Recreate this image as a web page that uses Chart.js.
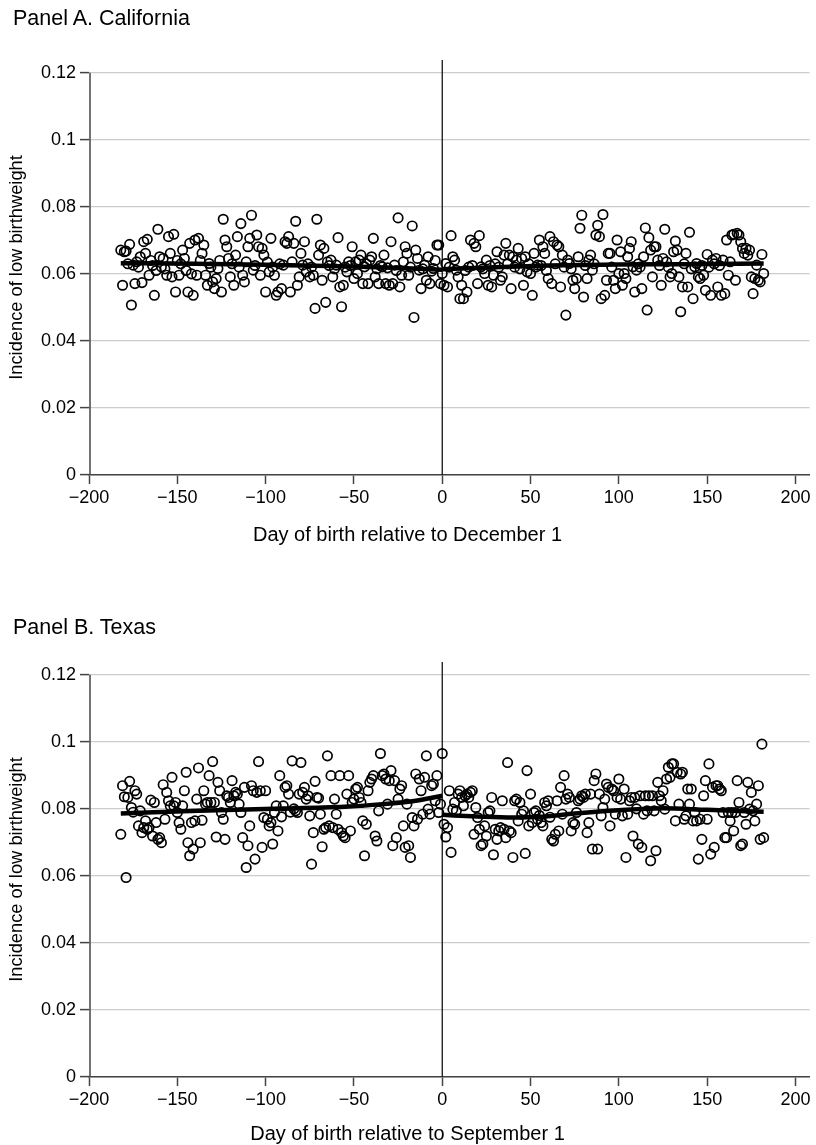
<!DOCTYPE html>
<html>
<head>
<meta charset="utf-8">
<script src="https://cdn.jsdelivr.net/npm/chart.js@4.4.1/dist/chart.umd.min.js"></script>
<style>
  html, body { margin: 0; background: #fff; overflow: hidden; }
  body { width: 816px; height: 1145px; position: relative; font-family: "Liberation Sans", Arial, sans-serif; }
  .panel { position: absolute; left: 0; width: 816px; height: 570px; }
  .panel canvas { position: absolute; left: 0; top: 0; }
  .panel-title { position: absolute; left: 13px; font-size: 21.5px; color: #000; line-height: 24px; }
</style>
</head>
<body>
<div class="panel" style="top:0px">
  <canvas id="chartA" width="816" height="570"></canvas>
  <div class="panel-title" style="top:6px">Panel A. California</div>
</div>
<div class="panel" style="top:602px">
  <canvas id="chartB" width="816" height="570"></canvas>
  <div class="panel-title" style="top:13px">Panel B. Texas</div>
</div>
<script>
// day of birth relative to the cutoff, first day in the arrays below
const firstDay = -182;

// Panel A, California: incidence of low birthweight by day (-182 .. 182)
const caLowBW = [
  0.0671, 0.0566, 0.0666, 0.0668, 0.0630, 0.0688, 0.0507, 0.0626, 0.0571, 0.0636,
  0.0620, 0.0651, 0.0574, 0.0696, 0.0661, 0.0703, 0.0596, 0.0640, 0.0625, 0.0536,
  0.0610, 0.0733, 0.0651, 0.0621, 0.0646, 0.0615, 0.0596, 0.0711, 0.0661, 0.0591,
  0.0718, 0.0546, 0.0640, 0.0596, 0.0630, 0.0671, 0.0646, 0.0610, 0.0546, 0.0691,
  0.0600, 0.0536, 0.0701, 0.0596, 0.0706, 0.0640, 0.0661, 0.0686, 0.0596, 0.0566,
  0.0631, 0.0620, 0.0576, 0.0556, 0.0586, 0.0616, 0.0640, 0.0546, 0.0763, 0.0701,
  0.0681, 0.0646, 0.0591, 0.0630, 0.0566, 0.0656, 0.0711, 0.0620, 0.0750, 0.0596,
  0.0576, 0.0636, 0.0681, 0.0706, 0.0775, 0.0611, 0.0625, 0.0716, 0.0681, 0.0596,
  0.0676, 0.0656, 0.0546, 0.0635, 0.0606, 0.0706, 0.0620, 0.0596, 0.0536, 0.0546,
  0.0630, 0.0556, 0.0626, 0.0696, 0.0691, 0.0711, 0.0546, 0.0636, 0.0691, 0.0757,
  0.0566, 0.0591, 0.0661, 0.0626, 0.0696, 0.0606, 0.0630, 0.0591, 0.0620, 0.0596,
  0.0497, 0.0763, 0.0656, 0.0686, 0.0581, 0.0676, 0.0515, 0.0636, 0.0625, 0.0641,
  0.0591, 0.0615, 0.0626, 0.0708, 0.0561, 0.0502, 0.0566, 0.0620, 0.0606, 0.0636,
  0.0625, 0.0681, 0.0586, 0.0636, 0.0601, 0.0641, 0.0656, 0.0571, 0.0621, 0.0630,
  0.0571, 0.0641, 0.0651, 0.0706, 0.0591, 0.0615, 0.0571, 0.0625, 0.0621, 0.0656,
  0.0571, 0.0618, 0.0566, 0.0696, 0.0571, 0.0626, 0.0610, 0.0767, 0.0561, 0.0596,
  0.0636, 0.0681, 0.0661, 0.0596, 0.0620, 0.0743, 0.0470, 0.0671, 0.0646, 0.0611,
  0.0556, 0.0615, 0.0626, 0.0581, 0.0651, 0.0571, 0.0608, 0.0616, 0.0640, 0.0686,
  0.0686, 0.0571, 0.0601,
  0.0566, 0.0631, 0.0561, 0.0620, 0.0714, 0.0651, 0.0641, 0.0611, 0.0591, 0.0526,
  0.0566, 0.0526, 0.0610, 0.0546, 0.0620, 0.0701, 0.0625, 0.0691, 0.0681, 0.0571,
  0.0714, 0.0621, 0.0615, 0.0601, 0.0641, 0.0566, 0.0625, 0.0561, 0.0596, 0.0630,
  0.0666, 0.0620, 0.0581, 0.0591, 0.0656, 0.0691, 0.0630, 0.0656, 0.0556, 0.0651,
  0.0620, 0.0641, 0.0676, 0.0615, 0.0646, 0.0566, 0.0651, 0.0606, 0.0630, 0.0601,
  0.0536, 0.0661, 0.0620, 0.0626, 0.0701, 0.0625, 0.0681, 0.0661, 0.0610, 0.0586,
  0.0711, 0.0571, 0.0696, 0.0630, 0.0686, 0.0681, 0.0561, 0.0656, 0.0620, 0.0477,
  0.0641, 0.0631, 0.0615, 0.0581, 0.0556, 0.0586, 0.0651, 0.0736, 0.0775, 0.0531,
  0.0625, 0.0586, 0.0641, 0.0656, 0.0611, 0.0630, 0.0716, 0.0745, 0.0711, 0.0526,
  0.0777, 0.0536, 0.0581, 0.0661, 0.0661, 0.0620, 0.0581, 0.0556, 0.0701, 0.0601,
  0.0666, 0.0566, 0.0601, 0.0586, 0.0651, 0.0676, 0.0696, 0.0621, 0.0546, 0.0611,
  0.0630, 0.0620, 0.0556, 0.0651, 0.0737, 0.0492, 0.0708, 0.0671, 0.0591, 0.0681,
  0.0681, 0.0641, 0.0625, 0.0566, 0.0646, 0.0733, 0.0636, 0.0620, 0.0591, 0.0601,
  0.0666, 0.0698, 0.0671, 0.0591, 0.0487, 0.0561, 0.0630, 0.0661, 0.0561, 0.0724,
  0.0615, 0.0526, 0.0621, 0.0631, 0.0591, 0.0586, 0.0625, 0.0596, 0.0551, 0.0658,
  0.0620, 0.0536, 0.0641, 0.0630, 0.0646, 0.0561, 0.0625, 0.0536, 0.0641, 0.0541,
  0.0701, 0.0596, 0.0636, 0.0716, 0.0718, 0.0581, 0.0721, 0.0716, 0.0696, 0.0676,
  0.0661, 0.0676, 0.0656, 0.0671, 0.0591, 0.0541, 0.0586, 0.0626, 0.0581, 0.0576,
  0.0658, 0.0601
];

// Panel B, Texas: incidence of low birthweight by day (-182 .. 182)
const txLowBW = [
  0.0724, 0.0869, 0.0836, 0.0595, 0.0834, 0.0882, 0.0804, 0.0790, 0.0854, 0.0844,
  0.0749, 0.0794, 0.0729, 0.0744, 0.0764, 0.0739, 0.0744, 0.0826, 0.0719, 0.0819,
  0.0759, 0.0709, 0.0714, 0.0699, 0.0872, 0.0769, 0.0849, 0.0824, 0.0809, 0.0894,
  0.0809, 0.0819, 0.0789, 0.0759, 0.0739, 0.0809, 0.0854, 0.0909, 0.0699, 0.0660,
  0.0759, 0.0680, 0.0764, 0.0829, 0.0922, 0.0699, 0.0766, 0.0854, 0.0814, 0.0819,
  0.0899, 0.0819, 0.0941, 0.0819, 0.0716, 0.0879, 0.0854, 0.0789, 0.0769, 0.0709,
  0.0839, 0.0834, 0.0819, 0.0884, 0.0839, 0.0849, 0.0844, 0.0814, 0.0789, 0.0714,
  0.0864, 0.0625, 0.0690, 0.0749, 0.0869, 0.0854, 0.0650, 0.0849, 0.0941, 0.0854,
  0.0685, 0.0774, 0.0854, 0.0769, 0.0749, 0.0759, 0.0695, 0.0789, 0.0809, 0.0734,
  0.0899, 0.0776, 0.0809, 0.0864, 0.0869, 0.0844, 0.0790, 0.0943, 0.0800, 0.0794,
  0.0789, 0.0844, 0.0938, 0.0849, 0.0864, 0.0829, 0.0839, 0.0779, 0.0635, 0.0729,
  0.0882, 0.0834, 0.0832, 0.0784, 0.0687, 0.0739, 0.0744, 0.0958, 0.0749, 0.0899,
  0.0744, 0.0829, 0.0784, 0.0739, 0.0899, 0.0729, 0.0719, 0.0714, 0.0844, 0.0899,
  0.0734, 0.0819, 0.0829, 0.0859, 0.0864, 0.0834, 0.0819, 0.0764, 0.0660, 0.0754,
  0.0854, 0.0879, 0.0889, 0.0899, 0.0719, 0.0704, 0.0794, 0.0965, 0.0899, 0.0904,
  0.0889, 0.0814, 0.0884, 0.0914, 0.0690, 0.0884, 0.0714, 0.0829, 0.0859, 0.0869,
  0.0749, 0.0685, 0.0814, 0.0690, 0.0655, 0.0774, 0.0749, 0.0904, 0.0769, 0.0889,
  0.0854, 0.0784, 0.0894, 0.0958, 0.0799, 0.0784, 0.0869, 0.0874, 0.0824, 0.0899,
  0.0789, 0.0814, 0.0965,
  0.0754, 0.0716, 0.0744, 0.0854, 0.0670, 0.0799, 0.0819, 0.0794, 0.0844, 0.0854,
  0.0834, 0.0809, 0.0839, 0.0844, 0.0834, 0.0849, 0.0854, 0.0724, 0.0804, 0.0774,
  0.0739, 0.0690, 0.0695, 0.0749, 0.0719, 0.0789, 0.0794, 0.0834, 0.0663, 0.0739,
  0.0709, 0.0734, 0.0744, 0.0824, 0.0739, 0.0714, 0.0938, 0.0734, 0.0729, 0.0655,
  0.0824, 0.0829, 0.0764, 0.0819, 0.0784, 0.0794, 0.0667, 0.0914, 0.0749, 0.0844,
  0.0759, 0.0789, 0.0794, 0.0769, 0.0780, 0.0759, 0.0749, 0.0819, 0.0809, 0.0824,
  0.0775, 0.0709, 0.0704, 0.0724, 0.0824, 0.0734, 0.0864, 0.0784, 0.0899, 0.0829,
  0.0844, 0.0834, 0.0734, 0.0759, 0.0754, 0.0789, 0.0824, 0.0829, 0.0839, 0.0834,
  0.0844, 0.0729, 0.0759, 0.0844, 0.0680, 0.0884, 0.0904, 0.0680, 0.0844, 0.0779,
  0.0804, 0.0829, 0.0874, 0.0864, 0.0749, 0.0859, 0.0854, 0.0784, 0.0834, 0.0889,
  0.0829, 0.0779, 0.0859, 0.0655, 0.0784, 0.0824, 0.0834, 0.0719, 0.0834, 0.0800,
  0.0695, 0.0839, 0.0685, 0.0784, 0.0839, 0.0794, 0.0839, 0.0645, 0.0839, 0.0794,
  0.0675, 0.0879, 0.0839, 0.0824, 0.0854, 0.0799, 0.0889, 0.0924, 0.0894, 0.0934,
  0.0934, 0.0764, 0.0909, 0.0814, 0.0904, 0.0909, 0.0769, 0.0779, 0.0859, 0.0814,
  0.0859, 0.0764, 0.0789, 0.0764, 0.0650, 0.0769, 0.0709, 0.0839, 0.0884, 0.0769,
  0.0934, 0.0665, 0.0864, 0.0685, 0.0869, 0.0869, 0.0859, 0.0854, 0.0789, 0.0714,
  0.0714, 0.0789, 0.0764, 0.0789, 0.0734, 0.0789, 0.0884, 0.0819, 0.0690, 0.0695,
  0.0789, 0.0754, 0.0879, 0.0799, 0.0849, 0.0794, 0.0764, 0.0814, 0.0869, 0.0709,
  0.0993, 0.0714
];

// fitted curves on each side of the cutoff
const caFitDaysL = [-182, -140, -100, -50, -20, 0];
const caFitL     = [0.0632, 0.0630, 0.0627, 0.0622, 0.0617, 0.0612];
const caFitDaysR = [0, 30, 60, 100, 140, 182];
const caFitR     = [0.0614, 0.0620, 0.0625, 0.0628, 0.0629, 0.0631];

const txFitDaysL = [-182, -138, -90, -53, -34, -15, 0];
const txFitL     = [0.0786, 0.0794, 0.0801, 0.0807, 0.0814, 0.0824, 0.0839];
const txFitDaysR = [0, 20, 40, 55, 75, 100, 125, 150, 182];
const txFitR     = [0.0782, 0.0777, 0.0774, 0.0776, 0.0786, 0.0796, 0.0802, 0.0797, 0.0791];

const xTicks = [-200, -150, -100, -50, 0, 50, 100, 150, 200];
const yTicks = [0, 0.02, 0.04, 0.06, 0.08, 0.1, 0.12];

const fontFamily = '"Liberation Sans", Arial, Helvetica, sans-serif';
const yTop = 0.1238;

// y axis only runs from 0 to 0.12, so it is drawn here instead of as a border
const yAxisLine = {
  id: 'yAxisLine',
  beforeDatasetsDraw(chart) {
    const { ctx, chartArea, scales: { y } } = chart;
    ctx.save();
    ctx.strokeStyle = '#444';
    ctx.lineWidth = 1.5;
    ctx.beginPath();
    ctx.moveTo(chartArea.left + 1, y.getPixelForValue(0));
    ctx.lineTo(chartArea.left + 1, y.getPixelForValue(yTicks[yTicks.length - 1]));
    ctx.stroke();
    ctx.restore();
  }
};

function pairs(xs, ys) {
  return xs.map((x, i) => ({ x: x, y: ys[i] }));
}

function makeChart(id, values, fitDaysL, fitL, fitDaysR, fitR, xTitle, titlePad) {
  const points = values.map((v, i) => ({ x: firstDay + i, y: v }));
  return new Chart(document.getElementById(id).getContext('2d'), {
    type: 'scatter',
    data: {
      datasets: [
        { type: 'line', data: pairs(fitDaysL, fitL), borderColor: '#000', borderWidth: 4.5,
          pointRadius: 0, cubicInterpolationMode: 'monotone' },
        { type: 'line', data: pairs(fitDaysR, fitR), borderColor: '#000', borderWidth: 4.5,
          pointRadius: 0, cubicInterpolationMode: 'monotone' },
        { type: 'line', data: [{ x: 0, y: 0 }, { x: 0, y: yTop }], borderColor: '#000',
          borderWidth: 1.2, pointRadius: 0 },
        { data: points, pointRadius: 4.7, borderWidth: 1.7, borderColor: '#000',
          backgroundColor: 'rgba(0,0,0,0)' }
      ]
    },
    options: {
      responsive: false,
      animation: false,
      layout: { padding: { top: 60, left: 0, right: 1, bottom: 23 } },
      plugins: {
        legend: { display: false },
        tooltip: { enabled: false },
        subtitle: {
          display: true, text: xTitle, position: 'bottom', align: 'center', color: '#000',
          font: { family: fontFamily, size: 20, weight: 'normal' },
          padding: { top: titlePad, bottom: 6 - titlePad }
        }
      },
      scales: {
        x: {
          type: 'linear', min: -200, max: 208,
          afterBuildTicks: s => { s.ticks = xTicks.map(v => ({ value: v })); },
          afterFit: s => { s.height = 42; },
          ticks: {
            color: '#000', font: { family: fontFamily, size: 18 }, padding: 3, maxRotation: 0,
            callback: v => (v < 0 ? '\u2212' + Math.abs(v) : String(v))
          },
          grid: { drawOnChartArea: false, drawTicks: true, tickLength: 9, tickColor: '#444', tickWidth: 1.5 },
          border: { color: '#444', width: 1.5 }
        },
        y: {
          min: 0, max: yTop,
          afterBuildTicks: s => { s.ticks = yTicks.map(v => ({ value: v })); },
          afterFit: s => { s.width = 89; },
          ticks: {
            color: '#000', font: { family: fontFamily, size: 18 }, padding: 4,
            callback: v => String(Math.round(v * 100) / 100)
          },
          grid: { color: '#cccccc', lineWidth: 1.2, tickLength: 9, tickColor: '#444', tickWidth: 1.5 },
          border: { display: false },
          title: {
            display: true, text: 'Incidence of low birthweight', color: '#000',
            font: { family: fontFamily, size: 18.3 }, padding: { top: 6, bottom: 0 }
          }
        }
      }
    },
    plugins: [yAxisLine]
  });
}

makeChart('chartA', caLowBW, caFitDaysL, caFitL, caFitDaysR, caFitR,
  'Day of birth relative to December 1', 6);
makeChart('chartB', txLowBW, txFitDaysL, txFitL, txFitDaysR, txFitR,
  'Day of birth relative to September 1', 3);
</script>
</body>
</html>
